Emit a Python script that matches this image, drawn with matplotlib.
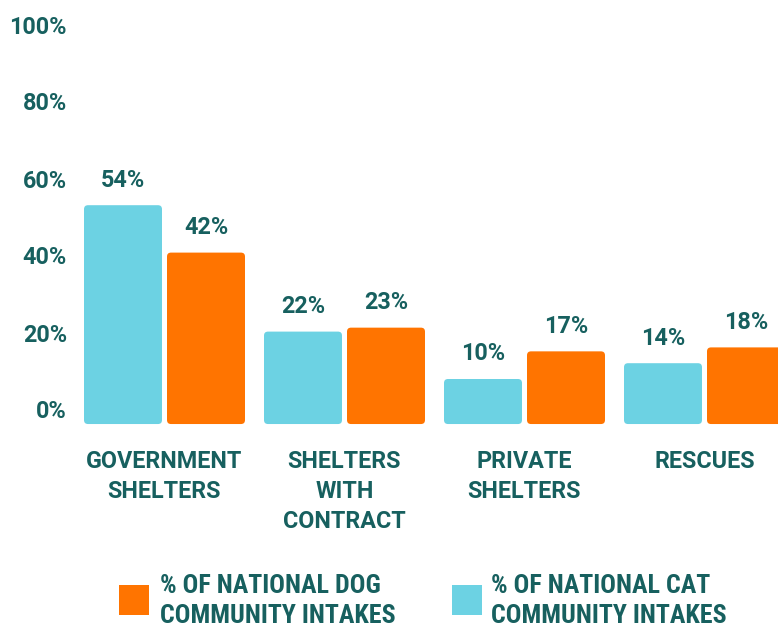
import matplotlib
matplotlib.use("Agg")
import matplotlib.pyplot as plt
import numpy as np
from matplotlib.patches import FancyBboxPatch, Rectangle
import matplotlib.font_manager as fm

categories = ["GOVERNMENT\nSHELTERS", "SHELTERS\nWITH\nCONTRACT", "PRIVATE\nSHELTERS", "RESCUES"]
cat_pct = [54, 22, 10, 14]
dog_pct = [42, 23, 17, 18]
y_ticks = [0, 20, 40, 60, 80, 100]
y_tick_labels = ["0%", "20%", "40%", "60%", "80%", "100%"]
legend_labels = ["% OF NATIONAL DOG\nCOMMUNITY INTAKES", "% OF NATIONAL CAT\nCOMMUNITY INTAKES"]

CAT_COLOR = "#6cd2e3"
DOG_COLOR = "#ff7400"
TEXT_COLOR = "#17605f"

names = {f.name for f in fm.fontManager.ttflist}
main_font = ["Roboto", "DejaVu Sans"]
main_font = [f for f in main_font if f in names] or ["DejaVu Sans"]
narrow = ["Roboto Condensed", "Liberation Sans Narrow", "Roboto"]
narrow = [f for f in narrow if f in names] or ["DejaVu Sans"]

W, H = 778, 629
fig = plt.figure(figsize=(W / 100, H / 100), dpi=100)
ax = fig.add_axes([0, 0, 1, 1])

GROUP_PX = 180.0
PCT_PX = 3.95
X0_PX = 164.5
Y0_PX = 418.5
ax.set_xlim(-X0_PX / GROUP_PX, (W - X0_PX) / GROUP_PX)
ax.set_ylim(-(H - Y0_PX) / PCT_PX, Y0_PX / PCT_PX)
ax.axis("off")

# separate scale for the tick labels (spaced slightly tighter than the bars)
axt = fig.add_axes([0, 0, 1, 1], sharex=ax)
axt.patch.set_visible(False)
TICK_PX = 3.85
TICK0_PX = 412
axt.set_ylim(-(H - TICK0_PX) / TICK_PX, TICK0_PX / TICK_PX)
axt.axis("off")

x = np.arange(len(categories))
bw = 78 / GROUP_PX
off = 41.5 / GROUP_PX
base = 1.4  # small overhang of rounded bar bottoms

bars_c = ax.bar(x - off, np.array(cat_pct) + base, bw, bottom=-base, color=CAT_COLOR)
bars_d = ax.bar(x + off, np.array(dog_pct) + base, bw, bottom=-base, color=DOG_COLOR)

r = 4 / GROUP_PX
aspect = GROUP_PX / PCT_PX
for bars in (bars_c, bars_d):
    for rect in bars:
        bx, by = rect.get_xy()
        w, h = rect.get_width(), rect.get_height()
        fc = rect.get_facecolor()
        rect.set_visible(False)
        p = FancyBboxPatch((bx, by), w, h, boxstyle=f"round,pad=0,rounding_size={r}",
                           mutation_aspect=aspect, facecolor=fc, edgecolor="none")
        ax.add_patch(p)

FS = 16.8
for bars, vals in ((bars_c, cat_pct), (bars_d, dog_pct)):
    for rect, v in zip(bars, vals):
        ax.annotate(f"{v}%", (rect.get_x() + rect.get_width() / 2, v),
                    xytext=(0, 25), textcoords="offset pixels", ha="center", va="center",
                    fontsize=FS, fontweight="bold", color=TEXT_COLOR, family=main_font)

# y tick labels
xl = ax.get_xlim()[0] + 67 / GROUP_PX
for t, lab in zip(y_ticks, y_tick_labels):
    axt.text(xl, t, lab, ha="right", va="center",
             fontsize=FS, fontweight="bold", color=TEXT_COLOR, family=main_font)

# category labels
for xi, lab in zip(x, categories):
    ax.annotate(lab, (xi, 0), xytext=(0, -(460 - Y0_PX) + 10), textcoords="offset pixels",
                ha="center", va="top", fontsize=FS, fontweight="bold", color=TEXT_COLOR,
                family=main_font, linespacing=1.4)

# legend
def fig_xy(px, py):
    return px / W, 1 - py / H

for (sx, tx), col, lab in (((119, 160), DOG_COLOR, legend_labels[0]),
                           ((452, 491), CAT_COLOR, legend_labels[1])):
    fx, fy = fig_xy(sx, 615)
    fig.patches.append(Rectangle((fx, fy), 30 / W, 30 / H, transform=fig.transFigure,
                                 facecolor=col, edgecolor="none"))
    tx_, ty_ = fig_xy(tx, 601)
    fig.text(tx_, ty_, lab, ha="left", va="center", fontsize=18.7, fontweight="bold",
             color=TEXT_COLOR, family=narrow, linespacing=1.33)

fig.savefig("out.png", dpi=100)
